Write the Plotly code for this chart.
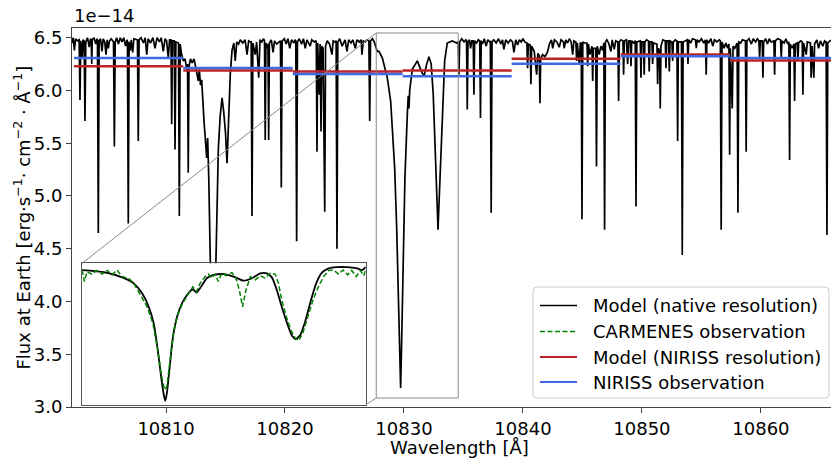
import plotly.graph_objects as go

# ---------------- data (flux in units of 1e-14 erg s^-1 cm^-2 A^-1) ----------------
model_wave = [
    10802.10, 10802.20, 10802.30, 10802.40, 10802.55,
    10802.70, 10802.77, 10802.84, 10802.95, 10803.02,
    10803.12, 10803.19, 10803.26, 10803.40, 10803.55, 10803.65,
    10803.72, 10803.76, 10803.80, 10803.95, 10804.10, 10804.20,
    10804.24, 10804.31, 10804.38, 10804.50, 10804.62, 10804.72,
    10804.85, 10804.96, 10805.05, 10805.15, 10805.25, 10805.40,
    10805.59, 10805.66, 10805.73, 10805.85, 10806.00, 10806.15,
    10806.30, 10806.45, 10806.60, 10806.72,
    10806.76, 10806.83, 10806.90, 10807.00, 10807.08, 10807.20, 10807.30,
    10807.60, 10807.67, 10807.74, 10807.90, 10808.10, 10808.25,
    10808.38, 10808.50, 10808.70, 10808.90, 10809.08, 10809.25,
    10809.45, 10809.60, 10809.77, 10809.92, 10810.05, 10810.19, 10810.30,
    10810.42, 10810.48, 10810.54, 10810.69, 10810.76, 10810.83,
    10811.05, 10811.12, 10811.19, 10811.30, 10811.45, 10811.60, 10811.75,
    10811.81, 10811.87, 10811.93, 10812.05, 10812.20, 10812.35, 10812.50,
    10812.71, 10812.80, 10812.90, 10813.00, 10813.10, 10813.20, 10813.30,
    10813.42, 10813.50, 10813.60, 10813.72, 10813.85, 10813.97, 10814.10,
    10814.20, 10814.30, 10814.40, 10814.55, 10814.71, 10814.85, 10815.00,
    10815.13, 10815.25, 10815.40, 10815.55, 10815.70,
    10815.82, 10815.95, 10816.10, 10816.25, 10816.45, 10816.65,
    10816.81, 10816.95, 10817.10, 10817.16, 10817.23, 10817.30,
    10817.50, 10817.62, 10817.79, 10817.90, 10818.05, 10818.20,
    10818.28, 10818.34, 10818.40, 10818.50, 10818.57, 10818.63, 10818.69,
    10818.85, 10819.00, 10819.12, 10819.30,
    10819.62, 10819.69, 10819.76, 10819.95, 10820.10, 10820.25,
    10820.40, 10820.55, 10820.75, 10820.85,
    10820.91, 10820.98, 10821.05, 10821.20, 10821.40, 10821.55,
    10821.70, 10821.85, 10822.00, 10822.12, 10822.25, 10822.45, 10822.58,
    10822.63, 10822.69, 10822.75, 10822.88, 10822.95, 10823.03, 10823.10,
    10823.20, 10823.28, 10823.34, 10823.41, 10823.55, 10823.75,
    10823.95, 10824.05, 10824.20, 10824.30, 10824.37, 10824.44,
    10824.60, 10824.80, 10825.05, 10825.21, 10825.35, 10825.55, 10825.70,
    10825.91, 10826.05, 10826.25, 10826.40, 10826.47, 10826.58, 10826.75, 10826.90,
    10827.05, 10827.12, 10827.19, 10827.35, 10827.50,
    10827.76, 10827.90, 10828.18, 10828.60, 10828.88, 10829.02, 10829.22,
    10829.39, 10829.52, 10829.66, 10829.72, 10829.80, 10829.94, 10830.08,
    10830.28, 10830.36, 10830.42, 10830.48, 10830.70, 10830.98, 10831.12,
    10831.40, 10831.68, 10831.91, 10832.10, 10832.29, 10832.46, 10832.66,
    10832.86, 10833.03, 10833.22, 10833.42, 10833.64, 10834.06, 10834.43,
    10834.56, 10834.62, 10834.68, 10834.85, 10835.05, 10835.20,
    10835.26, 10835.32, 10835.38, 10835.50, 10835.60, 10835.70,
    10835.82, 10835.88, 10835.94, 10836.10, 10836.25,
    10836.37, 10836.43, 10836.49, 10836.60, 10836.75, 10836.90, 10837.05, 10837.20,
    10837.26, 10837.33, 10837.40, 10837.55, 10837.75, 10837.95, 10838.15,
    10838.28, 10838.40, 10838.55, 10838.75, 10838.95, 10839.12, 10839.24,
    10839.40, 10839.55, 10839.70, 10839.85, 10840.00, 10840.15,
    10840.33, 10840.39, 10840.45, 10840.61, 10840.67, 10840.73,
    10840.95, 10841.15, 10841.25, 10841.37, 10841.43, 10841.49,
    10841.65, 10841.85, 10842.05, 10842.25, 10842.40,
    10842.50, 10842.65, 10842.85, 10843.05, 10843.20, 10843.40,
    10843.47, 10843.60, 10843.75, 10843.90, 10844.05, 10844.18, 10844.28,
    10844.45, 10844.51, 10844.57, 10844.73, 10844.82,
    10844.90, 10844.96, 10845.03, 10845.15, 10845.38, 10845.44, 10845.50,
    10845.63, 10845.80, 10845.86, 10845.92, 10846.12, 10846.18, 10846.24,
    10846.40, 10846.55, 10846.70, 10846.80, 10846.86, 10846.93,
    10847.05, 10847.20, 10847.39, 10847.50, 10847.67, 10847.80,
    10847.98, 10848.04, 10848.10, 10848.25, 10848.40, 10848.46, 10848.52,
    10848.70, 10848.80, 10848.88, 10849.02, 10849.08, 10849.14, 10849.30,
    10849.44, 10849.50, 10849.57, 10849.86, 10849.92, 10849.98,
    10850.13, 10850.19, 10850.25, 10850.40, 10850.55, 10850.61, 10850.67,
    10850.84, 10850.90, 10850.96, 10851.26, 10851.32, 10851.38,
    10851.48, 10851.54, 10851.60, 10851.75, 10851.96, 10852.02, 10852.08,
    10852.24, 10852.30, 10852.36, 10852.52, 10852.58, 10852.64, 10852.80,
    10852.94, 10853.00, 10853.06, 10853.32, 10853.39, 10853.46,
    10853.81, 10853.87, 10853.93, 10854.10, 10854.25,
    10854.50, 10854.57, 10854.64, 10854.80, 10855.00, 10855.20,
    10855.34, 10855.40, 10855.46, 10855.60, 10855.80, 10855.95, 10856.10,
    10856.30, 10856.50, 10856.59, 10856.66, 10856.73, 10856.90, 10857.05, 10857.20,
    10857.31, 10857.37, 10857.43, 10857.59, 10857.66, 10857.80,
    10858.00, 10858.07, 10858.14, 10858.30, 10858.45,
    10858.70, 10858.76, 10858.82, 10859.00, 10859.20, 10859.35,
    10859.55, 10859.70, 10859.83, 10859.89, 10859.95,
    10860.11, 10860.17, 10860.23, 10860.40, 10860.55, 10860.70, 10860.85,
    10861.09, 10861.15, 10861.21, 10861.40, 10861.65, 10861.71, 10861.77,
    10861.95, 10862.10, 10862.25, 10862.35, 10862.41, 10862.47, 10862.62,
    10862.77, 10862.83, 10862.89, 10863.05, 10863.11, 10863.17, 10863.35,
    10863.47, 10863.53, 10863.59, 10863.81, 10863.90,
    10864.16, 10864.22, 10864.30, 10864.45, 10864.51, 10864.70,
    10864.85, 10865.00, 10865.20, 10865.35, 10865.48, 10865.55, 10865.62,
    10865.80, 10866.00, 10866.30,
]
model_flux = [
    6.45, 6.50, 6.38, 6.49, 6.47,
    6.48, 5.91, 6.47, 6.30, 6.48,
    6.47, 5.71, 6.46, 6.50, 6.41, 6.49,
    6.48, 6.25, 6.48, 6.50, 6.44, 6.49,
    6.48, 4.65, 6.47, 6.49, 6.37, 6.49,
    6.46, 6.34, 6.48, 6.40, 6.47, 6.49,
    6.46, 5.47, 6.46, 6.50, 6.44, 6.50,
    6.46, 6.50, 6.42, 6.48,
    6.47, 4.74, 6.46, 6.38, 6.48, 6.36, 6.49,
    6.48, 5.52, 6.48, 6.50, 6.45, 6.50,
    6.34, 6.49, 6.45, 6.50, 6.40, 6.50,
    6.46, 6.50, 6.37, 6.49, 6.47, 6.31, 6.48,
    6.48, 5.68, 6.47, 6.47, 5.44, 6.46,
    6.45, 4.81, 6.44, 6.35, 6.28, 6.30, 6.20,
    6.25, 5.22, 6.22, 6.30, 6.26, 6.30, 6.22,
    6.09, 6.20, 6.05, 6.10, 5.85, 5.70, 5.55,
    5.36, 5.55, 5.15, 4.40, 3.90, 3.75, 3.90,
    4.40, 5.00, 5.45, 5.75, 5.93, 5.80, 5.60,
    5.31, 5.75, 6.15, 6.38, 6.45,
    6.28, 6.46, 6.44, 6.48, 6.45, 6.48,
    6.34, 6.47, 6.46, 6.46, 4.81, 6.45,
    6.34, 6.46, 6.12, 6.48, 6.46, 6.49,
    6.47, 5.53, 6.45, 6.40, 6.44, 5.53, 6.45,
    6.48, 6.36, 6.47, 6.44,
    6.47, 5.08, 6.47, 6.49, 6.44, 6.49,
    6.40, 6.48, 6.45, 6.48,
    6.47, 4.57, 6.46, 6.49, 6.44, 6.49,
    6.40, 6.48, 6.44, 6.42, 6.48, 6.46, 6.47,
    6.46, 5.42, 6.45, 5.96, 6.44, 5.61, 6.42,
    6.40, 4.95, 4.85, 6.42, 6.47, 6.44,
    6.34, 6.47, 6.46, 6.47, 4.50, 6.46,
    6.49, 6.42, 6.48, 6.37, 6.48, 6.45, 6.48,
    6.40, 6.48, 6.46, 6.48, 6.34, 6.47, 6.46, 6.48,
    6.47, 5.71, 6.47, 6.49, 6.46,
    6.37, 6.37, 6.31, 6.12, 5.90, 5.64, 5.26,
    4.69, 4.06, 3.43, 3.18, 3.59, 4.38, 5.17,
    5.77, 5.95, 5.83, 6.00, 6.20, 6.26, 6.28,
    6.20, 6.13, 6.25, 6.32, 6.25, 5.96, 5.33,
    4.68, 5.17, 5.80, 6.28, 6.45, 6.47, 6.45,
    6.46, 6.15, 6.46, 6.49, 6.46, 6.48,
    6.47, 5.82, 6.46, 6.48, 6.40, 6.47,
    6.47, 5.96, 6.47, 6.45, 6.48,
    6.47, 5.74, 6.47, 6.44, 6.49, 6.42, 6.48, 6.46,
    6.47, 4.84, 6.46, 6.48, 6.45, 6.49, 6.44,
    6.48, 6.39, 6.48, 6.45, 6.48, 6.46, 6.36,
    6.48, 6.43, 6.48, 6.46, 6.49, 6.46,
    6.45, 6.21, 6.44, 6.43, 6.06, 6.42,
    6.37, 6.15, 6.35, 6.33, 5.88, 6.30,
    6.34, 6.32, 6.36, 6.45, 6.48,
    6.40, 6.48, 6.46, 6.41, 6.48, 6.46,
    6.40, 6.48, 6.45, 6.49, 6.46, 6.34, 6.47,
    6.46, 6.28, 6.45, 6.25, 6.45,
    6.45, 4.78, 6.46, 6.45, 6.45, 6.23, 6.44,
    6.34, 6.42, 6.09, 6.40, 6.40, 5.28, 6.42,
    6.34, 6.42, 6.38, 6.45, 4.68, 6.46,
    6.48, 6.45, 6.37, 6.48, 6.39, 6.47,
    6.46, 5.90, 6.46, 6.48, 6.47, 6.15, 6.47,
    6.48, 6.25, 6.47, 6.47, 6.23, 6.47, 6.45,
    6.47, 4.90, 6.46, 6.47, 6.12, 6.46,
    6.46, 6.15, 6.46, 6.48, 6.47, 6.18, 6.46,
    6.46, 6.25, 6.45, 6.44, 6.06, 6.40,
    6.38, 5.83, 6.42, 6.48, 6.47, 6.21, 6.47,
    6.47, 6.18, 6.47, 6.46, 6.28, 6.46, 6.48,
    6.47, 5.52, 6.46, 6.46, 4.44, 6.46,
    6.48, 6.25, 6.48, 6.45, 6.49,
    6.48, 6.40, 6.48, 6.46, 6.49, 6.45,
    6.48, 6.15, 6.48, 6.45, 6.49, 6.42, 6.48,
    6.46, 6.48, 6.47, 4.68, 6.46, 6.40, 6.45, 6.40,
    6.44, 5.39, 6.40, 5.83, 6.42, 6.40,
    6.45, 4.84, 6.46, 6.45, 6.48,
    6.47, 5.42, 6.47, 6.49, 6.44, 6.49,
    6.46, 6.49, 6.47, 6.31, 6.47,
    6.47, 6.12, 6.46, 6.49, 6.44, 6.49, 6.46,
    6.47, 6.15, 6.47, 6.49, 6.48, 6.31, 6.47,
    6.45, 6.49, 6.44, 6.46, 5.34, 6.44, 6.40,
    6.44, 5.90, 6.44, 6.45, 6.28, 6.45, 6.47,
    6.46, 5.96, 6.45, 6.34, 6.46,
    6.45, 6.12, 6.42, 6.12, 6.44, 6.48,
    6.40, 6.47, 6.42, 6.47, 6.46, 4.63, 6.45,
    6.47, 6.48, 6.47,
]

# inset: model and CARMENES observation around the He I triplet
inset_model_wave = [
    10827.67, 10828.20, 10828.68, 10828.92, 10829.13, 10829.29, 10829.41, 10829.51,
    10829.59, 10829.65, 10829.69, 10829.73, 10829.80, 10829.88, 10829.98, 10830.10,
    10830.22, 10830.36, 10830.45, 10830.56, 10830.70, 10830.87, 10831.11, 10831.35,
    10831.59, 10831.80, 10832.00, 10832.16, 10832.28, 10832.40, 10832.52, 10832.65,
    10832.77, 10832.86, 10832.97, 10833.09, 10833.21, 10833.36, 10833.50, 10833.66,
    10833.86, 10834.10, 10834.35, 10834.47, 10834.56,
]
inset_model_flux = [
    6.38, 6.33, 6.19, 6.06, 5.81, 5.48, 5.08, 4.42,
    3.77, 3.36, 3.18, 3.36, 4.02, 4.75, 5.24, 5.57,
    5.77, 5.91, 5.83, 5.97, 6.18, 6.26, 6.28, 6.22,
    6.12, 6.18, 6.30, 6.30, 6.20, 5.89, 5.48, 5.08,
    4.77, 4.69, 4.79, 5.12, 5.57, 6.06, 6.32, 6.42,
    6.45, 6.45, 6.42, 6.38, 6.45,
]
carmenes_wave = [
    10827.67, 10827.73, 10827.79, 10827.91, 10828.03, 10828.16, 10828.28, 10828.40,
    10828.52, 10828.64, 10828.80, 10828.92, 10829.09, 10829.25, 10829.39, 10829.51,
    10829.59, 10829.67, 10829.73, 10829.81, 10829.89, 10829.99, 10830.12, 10830.26,
    10830.36, 10830.45, 10830.54, 10830.66, 10830.74, 10830.82, 10830.90, 10830.98,
    10831.06, 10831.18, 10831.31, 10831.41, 10831.49, 10831.57, 10831.65, 10831.76,
    10831.88, 10832.00, 10832.12, 10832.24, 10832.36, 10832.44, 10832.52, 10832.63,
    10832.74, 10832.85, 10832.93, 10833.03, 10833.15, 10833.28, 10833.41, 10833.54,
    10833.66, 10833.78, 10833.90, 10834.01, 10834.12, 10834.22, 10834.33, 10834.43,
    10834.51, 10834.56,
]
carmenes_flux = [
    6.38, 6.10, 6.34, 6.28, 6.37, 6.28, 6.37, 6.26,
    6.38, 6.22, 6.18, 6.06, 5.77, 5.48, 5.08, 4.42,
    3.85, 3.45, 3.53, 4.18, 4.83, 5.28, 5.58, 5.81,
    5.97, 5.85, 6.06, 6.22, 6.28, 6.18, 6.28, 6.10,
    6.30, 6.24, 6.32, 6.18, 5.89, 5.48, 5.89, 6.22,
    6.14, 6.24, 6.18, 6.30, 6.28, 6.06, 5.65, 5.24,
    4.91, 4.71, 4.65, 4.83, 5.24, 5.65, 5.97, 6.22,
    6.37, 6.38, 6.28, 6.38, 6.26, 6.37, 6.22, 6.37,
    6.24, 6.38,
]

# NIRISS bins
niriss_edges = [10802.27, 10811.45, 10820.65, 10829.89, 10839.05, 10848.21, 10857.39, 10866.57]
model_niriss = [6.23, 6.19, 6.18, 6.19, 6.30, 6.34, 6.283]
niriss_obs = [6.308, 6.213, 6.156, 6.135, 6.254, 6.325, 6.308]

# axis settings
x_range = [10802.10, 10865.89]
y_range = [3.0, 6.592]
inset_x_range = [10827.67, 10834.56]
inset_y_range = [3.085, 6.545]
inset_dom_x = [0.0132, 0.3870]
inset_dom_y = [0.0061, 0.3792]

FONT = "DejaVu Sans"
FS = 18
SPINE = "#444444"
W, H = 831, 459
ML, MR, MT, MB = 72, 0, 28, 52

STYLES = {
    "Model (native resolution)": dict(color="black", width=1.7),
    "CARMENES observation": dict(color="#008000", width=1.5, dash="5px,2.5px"),
    "Model (NIRISS resolution)": dict(color="#bd2226", width=2.5),
    "NIRISS observation": dict(color="#4169e1", width=2.5),
}


def steps(edges, vals):
    xs, ys = [], []
    for i, v in enumerate(vals):
        xs += [edges[i], edges[i + 1], None]
        ys += [v, v, None]
    return xs, ys


fig = go.Figure()
fig.add_trace(go.Scatter(x=model_wave, y=model_flux, mode="lines",
                         line=STYLES["Model (native resolution)"],
                         name="Model (native resolution)", showlegend=False, xaxis="x", yaxis="y"))
fig.add_trace(go.Scatter(x=inset_model_wave, y=inset_model_flux, mode="lines",
                         line=dict(color="black", width=1.8, shape="spline", smoothing=0.6),
                         name="Model (native resolution)", showlegend=False, xaxis="x2", yaxis="y2"))
fig.add_trace(go.Scatter(x=carmenes_wave, y=carmenes_flux, mode="lines",
                         line=STYLES["CARMENES observation"],
                         name="CARMENES observation", showlegend=False, xaxis="x2", yaxis="y2"))
rx, ry = steps(niriss_edges, model_niriss)
fig.add_trace(go.Scatter(x=rx, y=ry, mode="lines", line=STYLES["Model (NIRISS resolution)"],
                         name="Model (NIRISS resolution)", showlegend=False, xaxis="x", yaxis="y"))
bx, by = steps(niriss_edges, niriss_obs)
fig.add_trace(go.Scatter(x=bx, y=by, mode="lines", line=STYLES["NIRISS observation"],
                         name="NIRISS observation", showlegend=False, xaxis="x", yaxis="y"))


def x_at(f):
    return x_range[0] + f * (x_range[1] - x_range[0])


def y_at(f):
    return y_range[0] + f * (y_range[1] - y_range[0])


def px_x(p):
    return (p - ML) / (W - ML - MR)


def px_y(p):
    return (H - MB - p) / (H - MT - MB)


INDICATOR = "#8a8a8a"
shapes = [
    dict(type="rect", xref="x", yref="y", x0=inset_x_range[0], x1=inset_x_range[1],
         y0=inset_y_range[0], y1=inset_y_range[1], line=dict(color=INDICATOR, width=1), layer="above"),
    dict(type="line", xref="x", yref="y", x0=x_at(inset_dom_x[0]), y0=y_at(inset_dom_y[1]),
         x1=inset_x_range[0], y1=inset_y_range[1], line=dict(color=INDICATOR, width=1), layer="above"),
    dict(type="line", xref="x", yref="y", x0=x_at(inset_dom_x[1]), y0=y_at(inset_dom_y[0]),
         x1=inset_x_range[0], y1=inset_y_range[0], line=dict(color=INDICATOR, width=1), layer="above"),
]

# legend box (rounded) drawn in paper coordinates
lx0, lx1, ly0, ly1 = px_x(533), px_x(829), px_y(398), px_y(287)
rx_, ry_ = 4 / (W - ML - MR), 4 / (H - MT - MB)
legend_path = (
    f"M {lx0 + rx_},{ly0} L {lx1 - rx_},{ly0} Q {lx1},{ly0} {lx1},{ly0 + ry_} "
    f"L {lx1},{ly1 - ry_} Q {lx1},{ly1} {lx1 - rx_},{ly1} L {lx0 + rx_},{ly1} "
    f"Q {lx0},{ly1} {lx0},{ly1 - ry_} L {lx0},{ly0 + ry_} Q {lx0},{ly0} {lx0 + rx_},{ly0} Z"
)
shapes.append(dict(type="path", xref="paper", yref="paper", path=legend_path,
                   fillcolor="rgba(255,255,255,0.8)", line=dict(color="#cccccc", width=1),
                   layer="above"))

annotations = [
    dict(text="1e−14", xref="paper", yref="paper", x=0, y=1, xanchor="left",
         yanchor="bottom", showarrow=False, font=dict(family=FONT, size=FS, color="black")),
    dict(text="Wavelength [Å]", xref="paper", yref="paper", x=0.51, y=-0.108,
         xanchor="center", yanchor="middle", showarrow=False,
         font=dict(family=FONT, size=FS, color="black")),
    dict(text="Flux at Earth [erg·s<sup>−1</sup>· cm<sup>−2</sup> · Å<sup>−1</sup>]",
         xref="paper", yref="paper", x=-0.0659, y=0.5, xanchor="center", yanchor="middle",
         textangle=-90, showarrow=False, font=dict(family=FONT, size=FS, color="black")),
]

row_centers = [305.5, 331.5, 357.0, 382.0]
for (label, style), rc in zip(STYLES.items(), row_centers):
    ly = px_y(rc)
    shapes.append(dict(type="line", xref="paper", yref="paper", x0=px_x(540), x1=px_x(577),
                       y0=ly, y1=ly, line=dict(color=style["color"], width=min(style["width"], 2.0),
                                               dash=style.get("dash", "solid")), layer="above"))
    annotations.append(dict(text=label, xref="paper", yref="paper", x=px_x(591), y=ly,
                            xanchor="left", yanchor="middle", showarrow=False,
                            font=dict(family=FONT, size=FS, color="black")))

fig.update_layout(
    width=W, height=H, autosize=False,
    margin=dict(l=ML, r=MR, t=MT, b=MB),
    paper_bgcolor="white", plot_bgcolor="white",
    font=dict(family=FONT, size=FS, color="black"),
    showlegend=False,
    shapes=shapes,
    annotations=annotations,
    xaxis=dict(domain=[0, 1], range=x_range, showline=True, linecolor=SPINE, linewidth=1,
               mirror=True, ticks="outside", ticklen=5, tickwidth=1, tickcolor=SPINE,
               showgrid=False, zeroline=False, tick0=10810, dtick=10, tickformat="d",
               tickfont=dict(family=FONT, size=FS, color="black")),
    yaxis=dict(domain=[0, 1], range=y_range, showline=True, linecolor=SPINE, linewidth=1,
               ticks="outside", ticklen=5, tickwidth=1, tickcolor=SPINE,
               showgrid=False, zeroline=False, tick0=3.0, dtick=0.5, tickformat=".1f",
               tickfont=dict(family=FONT, size=FS, color="black")),
    xaxis2=dict(domain=inset_dom_x, anchor="y2", range=inset_x_range, showline=True,
                linecolor="#555555", linewidth=1, mirror=True, showticklabels=False, ticks="",
                showgrid=False, zeroline=False),
    yaxis2=dict(domain=inset_dom_y, anchor="x2", range=inset_y_range, showline=True,
                linecolor="#555555", linewidth=1, mirror=True, showticklabels=False, ticks="",
                showgrid=False, zeroline=False),
)

fig.write_html("out.html")
